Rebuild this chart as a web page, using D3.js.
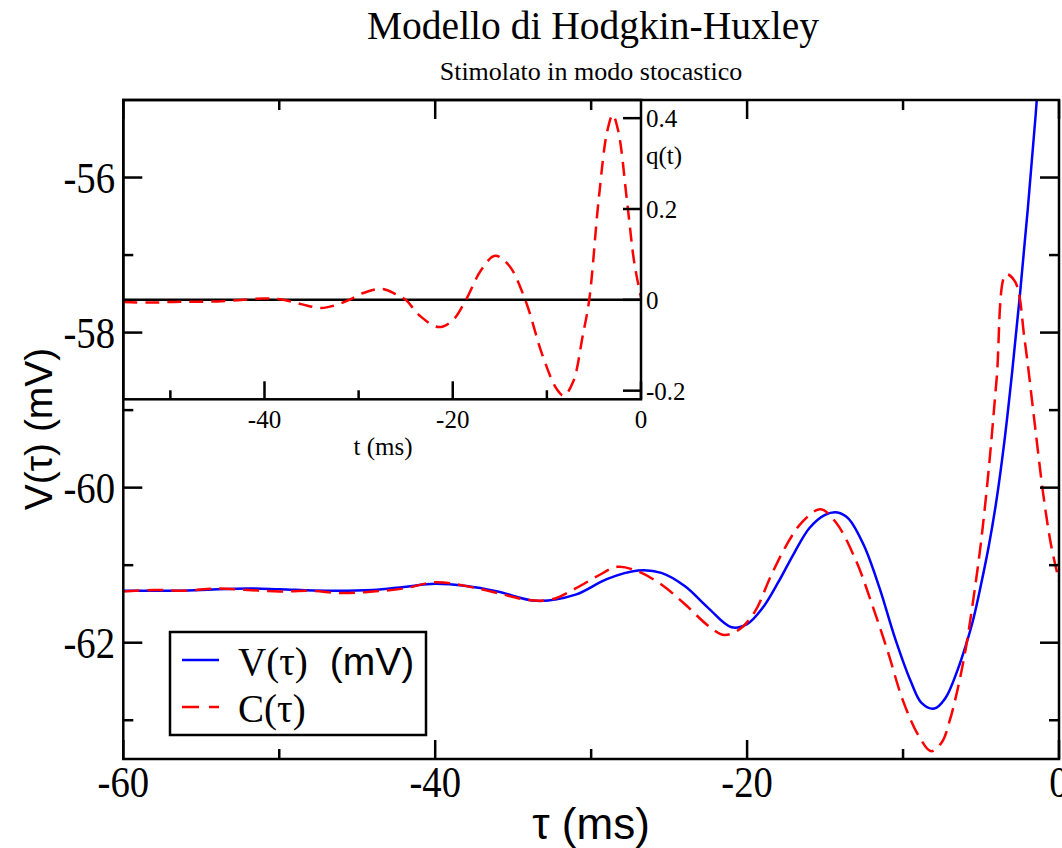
<!DOCTYPE html>
<html><head><meta charset="utf-8">
<script src="https://cdn.jsdelivr.net/npm/d3@7"></script>
<style>body{margin:0;background:#fff}svg{display:block}</style>
</head><body>
<svg id="c" width="1062" height="848"></svg>
<script>
// ---- data ----
const vTau = [-60,-57,-55,-52,-50,-47,-44,-42,-40,-38,-36,-33.5,-31,-29,-27,-25.5,-24,-22.5,-21,-20,-19,-18,-17,-16,-15,-14.2,-13.5,-12.5,-11.5,-10.5,-9.5,-8.8,-8,-7.3,-6.5,-6,-5.5,-5,-4.5,-4,-3.5,-3,-2.5,-2,-1.5,-1];
const vVal = [-61.33,-61.33,-61.32,-61.3,-61.31,-61.33,-61.32,-61.28,-61.24,-61.27,-61.34,-61.46,-61.38,-61.18,-61.07,-61.1,-61.27,-61.55,-61.8,-61.76,-61.55,-61.22,-60.85,-60.52,-60.35,-60.32,-60.4,-60.75,-61.3,-61.95,-62.5,-62.78,-62.85,-62.72,-62.35,-62.05,-61.7,-61.25,-60.75,-60.15,-59.4,-58.5,-57.5,-56.4,-55.2,-53.8];
const cTau = [-60,-58,-56,-54,-52,-50,-48,-46,-44,-42,-40,-38,-36,-34,-32.5,-31,-29.5,-28.3,-27,-25.5,-24,-22.5,-21.5,-20.5,-19.5,-18.5,-17.5,-16.5,-15.3,-14.3,-13,-12,-11,-10,-9,-8.2,-7.5,-7,-6.5,-6,-5.5,-5,-4.5,-4,-3.4,-2.8,-2.2,-1.6,-1,-0.5,0];
const cVal = [-61.34,-61.32,-61.33,-61.3,-61.32,-61.34,-61.33,-61.36,-61.34,-61.3,-61.22,-61.27,-61.36,-61.45,-61.44,-61.3,-61.13,-61.02,-61.08,-61.25,-61.5,-61.78,-61.9,-61.83,-61.6,-61.15,-60.75,-60.45,-60.28,-60.45,-60.95,-61.5,-62.1,-62.75,-63.2,-63.4,-63.28,-63.0,-62.6,-62.1,-61.45,-60.7,-59.75,-58.6,-57.25,-57.35,-58.1,-59.1,-60.1,-60.75,-61.2];
const qT = [-55,-52,-49,-46,-43,-40,-38,-36,-34,-32.5,-31,-29.5,-27.5,-26,-25,-23.5,-21.5,-20,-18.6,-17,-15.5,-14,-12.3,-10.5,-9,-8.2,-7.2,-6.2,-5.5,-4.5,-3.6,-3,-2.4,-1.5,-0.7,0];
const qVal = [-0.005,-0.006,-0.004,-0.004,-0.001,0.003,0.0,-0.01,-0.018,-0.012,0.0,0.015,0.024,0.012,0.0,-0.035,-0.06,-0.045,0.0,0.065,0.097,0.075,0.0,-0.12,-0.195,-0.211,-0.18,-0.08,0.0,0.22,0.37,0.407,0.37,0.22,0.08,0.006];
const xTicks = [-60,-40,-20,0];
const xMinor = [-50,-30,-10];
const yTicks = [-56,-58,-60,-62];
const yMinor = [-57,-59,-61,-63];
const ixTicks = [-40,-20,0];
const ixMinor = [-50,-30,-10];
const iyTicks = [0.4,0.2,0,-0.2];
const iyLabels = ['0.4','0.2','0','-0.2'];

const svg = d3.select('#c');
const M = {l:123.3, r:1059, t:100, b:759};
const x = d3.scaleLinear().domain([-60,0]).range([M.l,M.r]);
const y = d3.scaleLinear().domain([-63.5,-55]).range([M.b,M.t]);
const I = {l:123.3, r:641, t:100, b:399.3};
const ix = d3.scaleLinear().domain([-55,0]).range([I.l,I.r]);
const iy = d3.scaleLinear().domain([-0.219,0.44]).range([I.b,I.t]);

const serif = 'Liberation Serif, Times New Roman, serif';
const sans = 'Liberation Sans, Arial, sans-serif';

// title
svg.append('text').attr('x',593).attr('y',39).attr('text-anchor','middle')
  .attr('font-family',serif).attr('font-size',39.5).text('Modello di Hodgkin-Huxley');
svg.append('text').attr('x',591).attr('y',80).attr('text-anchor','middle')
  .attr('font-family',serif).attr('font-size',26).text('Stimolato in modo stocastico');

// main clip
svg.append('clipPath').attr('id','mc').append('rect')
  .attr('x',M.l).attr('y',M.t).attr('width',M.r-M.l).attr('height',M.b-M.t);
const mg = svg.append('g').attr('clip-path','url(#mc)');
const lineV = d3.line().x((d,i)=>x(vTau[i])).y(d=>y(d)).curve(d3.curveCatmullRom.alpha(0.5));
const lineC = d3.line().x((d,i)=>x(cTau[i])).y(d=>y(d)).curve(d3.curveCatmullRom.alpha(0.5));
mg.append('path').attr('d',lineV(vVal)).attr('fill','none').attr('stroke','#0000ff').attr('stroke-width',2.5);
mg.append('path').attr('d',lineC(cVal)).attr('fill','none').attr('stroke','#ff0000').attr('stroke-width',2.5).attr('stroke-dasharray','16,8');

// inset
svg.append('rect').attr('x',I.l).attr('y',I.t).attr('width',I.r-I.l).attr('height',I.b-I.t).attr('fill','#fff');
svg.append('line').attr('x1',I.l).attr('x2',I.r).attr('y1',iy(0)).attr('y2',iy(0)).attr('stroke','#000').attr('stroke-width',2.5);
const lineQ = d3.line().x((d,i)=>ix(qT[i])).y(d=>iy(d)).curve(d3.curveCatmullRom.alpha(0.5));
svg.append('path').attr('d',lineQ(qVal)).attr('fill','none').attr('stroke','#ff0000').attr('stroke-width',2.5).attr('stroke-dasharray','14,8');
svg.append('rect').attr('x',I.l).attr('y',I.t).attr('width',I.r-I.l).attr('height',I.b-I.t).attr('fill','none').attr('stroke','#000').attr('stroke-width',2.5);
// inset ticks
ixTicks.forEach(t=>svg.append('line').attr('x1',ix(t)).attr('x2',ix(t)).attr('y1',I.b).attr('y2',I.b-18).attr('stroke','#000').attr('stroke-width',2.5));
ixMinor.forEach(t=>svg.append('line').attr('x1',ix(t)).attr('x2',ix(t)).attr('y1',I.b).attr('y2',I.b-9).attr('stroke','#000').attr('stroke-width',2.5));
iyTicks.forEach(t=>svg.append('line').attr('x1',I.r).attr('x2',I.r-18).attr('y1',iy(t)).attr('y2',iy(t)).attr('stroke','#000').attr('stroke-width',2.5));
ixTicks.forEach(t=>svg.append('text').attr('x',ix(t)).attr('y',428).attr('text-anchor','middle')
  .attr('font-family',serif).attr('font-size',25).text(t));
iyTicks.forEach((t,i)=>svg.append('text').attr('x',646).attr('y',iy(t)+9).attr('font-family',serif).attr('font-size',25).text(iyLabels[i]));
svg.append('text').attr('x',646).attr('y',164).attr('font-family',serif).attr('font-size',25).text('q(t)');
svg.append('text').attr('x',383).attr('y',455).attr('text-anchor','middle').attr('font-family',serif).attr('font-size',25).text('t (ms)');

// main frame + ticks
svg.append('rect').attr('x',M.l).attr('y',M.t).attr('width',M.r-M.l).attr('height',M.b-M.t).attr('fill','none').attr('stroke','#000').attr('stroke-width',2.5);
function tk(x1,y1,x2,y2){svg.append('line').attr('x1',x1).attr('y1',y1).attr('x2',x2).attr('y2',y2).attr('stroke','#000').attr('stroke-width',2.5);}
xTicks.forEach(t=>{tk(x(t),M.b,x(t),M.b-19);tk(x(t),M.t,x(t),M.t+19);});
xMinor.forEach(t=>{tk(x(t),M.b,x(t),M.b-10);tk(x(t),M.t,x(t),M.t+10);});
yTicks.forEach(t=>{tk(M.l,y(t),M.l+19,y(t));tk(M.r,y(t),M.r-19,y(t));});
yMinor.forEach(t=>{tk(M.l,y(t),M.l+10,y(t));tk(M.r,y(t),M.r-10,y(t));});

xTicks.forEach(t=>svg.append('text').attr('transform',`translate(${x(t)},797) scale(0.88,1)`).attr('text-anchor','middle')
  .attr('font-family',serif).attr('font-size',44).text(t));
yTicks.forEach(t=>svg.append('text').attr('transform',`translate(115,${y(t)+15}) scale(0.88,1)`).attr('text-anchor','end')
  .attr('font-family',serif).attr('font-size',44).text(t));

svg.append('text').attr('x',591).attr('y',839).attr('text-anchor','middle').attr('font-family',sans).attr('font-size',44).text('τ (ms)');
svg.append('text').attr('transform','translate(52,429) rotate(-90)').attr('text-anchor','middle').attr('font-family',sans).attr('font-size',39).text('V(τ) (mV)');

// legend
svg.append('rect').attr('x',170).attr('y',632).attr('width',256).attr('height',103).attr('fill','#fff').attr('stroke','#000').attr('stroke-width',2.5);
svg.append('line').attr('x1',182).attr('x2',219).attr('y1',660).attr('y2',660).attr('stroke','#0000ff').attr('stroke-width',2.5);
svg.append('line').attr('x1',182).attr('x2',219).attr('y1',707).attr('y2',707).attr('stroke','#ff0000').attr('stroke-width',2.5).attr('stroke-dasharray','17,10');
const lt = svg.append('text').attr('x',238).attr('y',675).attr('font-size',39);
lt.append('tspan').attr('font-family',serif).text('V(τ)');
lt.append('tspan').attr('font-family',sans).attr('dx',22).text('(mV)');
svg.append('text').attr('x',238).attr('y',722).attr('font-family',serif).attr('font-size',39).text('C(τ)');
</script>
</body></html>
